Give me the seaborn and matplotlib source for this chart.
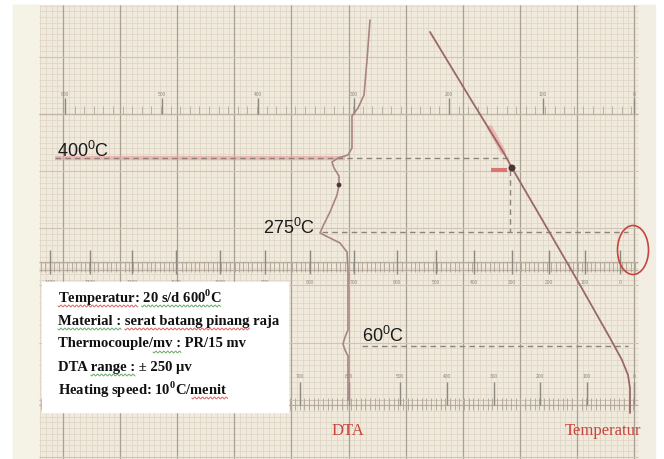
import numpy as np
import matplotlib
matplotlib.use("Agg")
import matplotlib.pyplot as plt
from matplotlib.patches import Rectangle, Ellipse
import seaborn as sns

# ── Chart data (paper units, y grows downwards = chart feed) ─────────────────
dta_x = [370, 367, 364, 358, 352, 352, 348, 338, 332, 334, 339, 339, 337,
         330, 323, 320, 328, 340, 347, 348, 348, 345, 343, 345, 348, 348]
dta_y = [20, 60, 95, 108, 116, 148, 155, 158, 162, 168, 176, 185, 195,
         212, 226, 233, 237, 243, 252, 270, 330, 337, 344, 350, 356, 400]

temp_x = [430, 470, 505, 512, 547, 580, 610, 622, 628, 630, 630]
temp_y = [32, 98, 155, 168, 228, 285, 338, 360, 375, 388, 413]

# marked reactions: label, label anchor, guide line (x0, x1, y)
marks = ["400", "275", "60"]
mark_label_x = [57, 263, 362]
mark_label_y = [157, 234, 342]
guide_x0 = [345, 322, 362]
guide_x1 = [510, 628, 628]
guide_y = [158, 232, 346]

# printed scales of the recorder paper
upper_scale_x = [65, 162, 258, 354, 449, 543, 634]
upper_scale_lab = ["600", "500", "400", "300", "200", "100", "0"]
mid_scale_x = [50, 90, 132, 176, 220, 265, 310, 354, 397, 436, 474, 512, 549, 585, 620]
mid_scale_lab = ["1400", "1300", "1200", "1100", "1000", "900", "800", "700",
                 "600", "500", "400", "300", "200", "100", "0"]
low_scale_x = [300, 349, 400, 447, 494, 540, 587, 634]
low_scale_lab = ["700", "600", "500", "400", "300", "200", "100", "0"]

info_lines = [
    r"Temperatur: 20 s/d 600$^\mathregular{0}$C",
    "Material : serat batang pinang raja",
    "Thermocouple/mv : PR/15 mv",
    "DTA range : \u00b1 250 \u00b5v",
    r"Heating speed: 10$^\mathregular{0}$C/menit",
]
# spell-check marks in the pasted box: (line, text before, marked text, colour)
squiggles = [
    (0, "", "Temperatur:", "r"),
    (0, "Temperatur: ", r"20 s/d 600$^\mathregular{0}$C", "g"),
    (1, "", "Material :", "g"),
    (1, "Material : ", "serat batang pinang", "r"),
    (2, "Thermocouple/", "mv :", "g"),
    (3, "DTA ", "range :", "g"),
    (4, r"Heating speed: 10$^\mathregular{0}$C/", "menit", "r"),
]

# ── Style ────────────────────────────────────────────────────────────────────
sns.set_theme(style="white")
plt.rcParams["font.family"] = ["Liberation Sans", "DejaVu Sans"]

PAPER = "#f0eadd"
MINOR = "#e0d6c7"
MAJOR = "#a8a092"
DTA_C = "#a88484"
TEMP_C = "#9a6868"
GUIDE = "#8a847c"
RED = "#c8453c"
SERIF = ["Liberation Serif", "DejaVu Serif"]

fig = plt.figure(figsize=(6.64, 4.59), dpi=100)
ax = fig.add_axes([0, 0, 1, 1])
ax.set_xlim(0, 664)
ax.set_ylim(459, 0)
ax.axis("off")

# paper + margins
ax.add_patch(Rectangle((0, 0), 664, 459, color="white", zorder=0))
ax.add_patch(Rectangle((13, 5), 640, 454, color=PAPER, zorder=0))
ax.add_patch(Rectangle((13, 5), 26, 454, color="#f4f3e6", zorder=0.5))
ax.add_patch(Rectangle((638, 5), 17, 454, color="#f2eee4", zorder=0.5))

# grid of the chart paper
step = 57.1 / 10
gx = np.arange(63 - 4 * step, 638, step)
gy = np.arange(57 - 9 * step, 459, step)
gx = gx[gx > 39]
gy = gy[gy > 5]
ax.vlines(gx, 5, 459, color=MINOR, lw=0.6, zorder=1)
ax.hlines(gy, 39, 638, color=MINOR, lw=0.6, zorder=1)
ax.vlines(np.arange(63, 640, 57.1), 5, 459, color=MAJOR, lw=0.9, zorder=1.2)
ax.hlines(np.arange(57, 459, 57.1), 39, 638, color="#cfc4b4", lw=0.8, zorder=1.2)

# printed scales
small = dict(fontsize=3.5, color="#8d8880", ha="center", va="center", zorder=2)
ax.hlines(114, 39, 638, color="#c0b6a7", lw=1.0, zorder=1.5)
ax.vlines(np.arange(65, 636, 9.6), 106, 114, color="#b3aa9c", lw=0.6, zorder=1.5)
ax.vlines(upper_scale_x, 98, 114, color="#8d8880", lw=1.0, zorder=1.6)
for x, t in zip(upper_scale_x, upper_scale_lab):
    ax.text(x, 94, t, **small)

ax.hlines([262, 270], 39, 638, color="#b8ad9e", lw=0.9, zorder=1.5)
ax.vlines(np.arange(41, 636, 4.4), 262, 272, color="#ada396", lw=0.6, zorder=1.5)
ax.vlines(mid_scale_x, 250, 274, color="#8d8880", lw=1.0, zorder=1.6)
for x, t in zip(mid_scale_x, mid_scale_lab):
    ax.text(x, 282, t, **small)

ax.hlines(405, 39, 638, color="#b8ad9e", lw=0.9, zorder=1.5)
ax.vlines(np.arange(41, 636, 4.7), 398, 410, color="#ada396", lw=0.6, zorder=1.5)
ax.vlines(low_scale_x, 382, 405, color="#8d8880", lw=1.0, zorder=1.6)
for x, t in zip(low_scale_x, low_scale_lab):
    ax.text(x, 376, t, **small)

# guide lines for the read temperatures
ax.hlines(guide_y[0], 55, guide_x0[0], color="#eba3a0", lw=3, alpha=0.7, zorder=2)
ax.hlines(guide_y, [55] + guide_x0[1:], guide_x1, color=GUIDE, lw=1,
          linestyles=(0, (4, 3)), zorder=2.2)
ax.vlines(guide_x1[0], 170, guide_y[1], color=GUIDE, lw=1,
          linestyles=(0, (4, 3)), zorder=2.2)
ax.hlines(170, 491, 507, color="#d9776f", lw=3, zorder=2.3)
ax.plot([490, 503], [128, 152], color="#eba3a0", lw=4, alpha=0.7,
        solid_capstyle="round", zorder=2.3)

# curves
sns.lineplot(x=dta_x, y=dta_y, sort=False, estimator=None, color=DTA_C,
             lw=1.2, ax=ax, zorder=3)
sns.lineplot(x=temp_x, y=temp_y, sort=False, estimator=None, color=TEMP_C,
             lw=1.3, ax=ax, zorder=3)
ax.scatter([temp_x[3], dta_x[11]], [temp_y[3], dta_y[11]], s=[16, 6],
           color="#4a3434", zorder=4)

# labels of the reaction temperatures
for t, x, y in zip(marks, mark_label_x, mark_label_y):
    ax.text(x, y, t + r"$^\mathregular{0}$C", fontsize=13, color="#1a1a1a",
            ha="left", va="baseline", zorder=5)

ax.text(348, 431, "DTA", fontsize=12, color=RED, ha="center", va="center",
        family=SERIF, zorder=5)
ax.text(603, 431, "Temperatur", fontsize=12, color=RED, ha="center",
        va="center", family=SERIF, zorder=5)
ax.add_patch(Ellipse((633, 250), 31, 49, fill=False, ec=RED, lw=1.2, zorder=5))

# info box
box_font = dict(fontsize=10.5, fontweight="bold", family=SERIF)
ax.add_patch(Rectangle((42, 282), 246, 130, color="white", zorder=6))
for i, line in enumerate(info_lines):
    ax.text(58, 298 + 23 * i, line, color="#111111", ha="left", va="center",
            zorder=7, **box_font)

renderer = fig.canvas.get_renderer()


def text_width(s):
    if not s:
        return 0.0
    t = ax.text(0, 0, s, **box_font)
    bb = t.get_window_extent(renderer).transformed(ax.transData.inverted())
    t.remove()
    return abs(bb.x1 - bb.x0)


for i, before, word, c in squiggles:
    x0 = 58 + text_width(before)
    x1 = x0 + text_width(word)
    xs = np.linspace(x0, x1, int((x1 - x0) * 1.2) + 2)
    ys = 298 + 23 * i + 8 + 1.0 * np.sin((xs - x0) * 1.6)
    ax.plot(xs, ys, color="#d24a4a" if c == "r" else "#4f9b4f", lw=0.7,
            alpha=0.85, zorder=7)

fig.savefig("out.png", dpi=100)
